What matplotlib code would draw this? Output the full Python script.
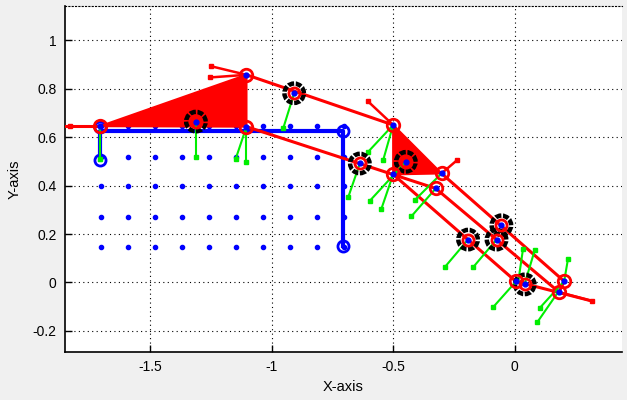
import matplotlib.pyplot as plt
from matplotlib.patches import Circle, Polygon

plt.rcParams['font.family'] = ['Liberation Sans', 'DejaVu Sans']

# Workspace sample points (blue dots)
grid_x = [-1.703, -1.592, -1.480, -1.370, -1.259, -1.148, -1.037, -0.926, -0.815, -0.704]
grid_y = [0.145, 0.270, 0.398, 0.519, 0.645]

# Blue reference path and its end/corner rings
path_x = [-1.705, -1.705, -0.708, -0.708]
path_y = [0.505, 0.627, 0.627, 0.149]
ring_x = [-1.705, -1.705, -0.708, -0.708]
ring_y = [0.505, 0.640, 0.627, 0.149]

# Rigid bodies (filled red triangles)
tri1_x = [-1.705, -1.103, -1.103]
tri1_y = [0.645, 0.857, 0.643]
tri2_x = [-0.500, -0.500, -0.301]
tri2_y = [0.650, 0.446, 0.450]

# Red links: (x0, y0, x1, y1)
links = [
    (-1.849, 0.645, -1.705, 0.645),
    (-1.103, 0.857, -0.500, 0.650),
    (-1.103, 0.643, -0.325, 0.388),
    (-0.500, 0.446, 0.005, 0.004),
    (-0.325, 0.388, 0.182, -0.040),
    (-0.301, 0.450, 0.203, 0.005),
    (0.005, 0.004, 0.319, -0.077),
    (0.182, -0.040, 0.203, 0.005),
]
# Short red stubs ending in a dot
stubs = [
    (-1.103, 0.857, -1.247, 0.892),
    (-1.103, 0.857, -1.254, 0.846),
    (-0.500, 0.650, -0.603, 0.747),
    (-0.301, 0.450, -0.237, 0.505),
    (-1.705, 0.645, -1.830, 0.645),
    (0.182, -0.040, 0.319, -0.077),
]

# Green direction vectors: (x0, y0, x1, y1)
vectors = [
    (-1.705, 0.629, -1.705, 0.510),
    (-1.311, 0.664, -1.311, 0.516),
    (-1.103, 0.643, -1.148, 0.508),
    (-1.103, 0.643, -1.103, 0.498),
    (-0.907, 0.781, -0.952, 0.636),
    (-0.500, 0.650, -0.541, 0.505),
    (-0.500, 0.650, -0.603, 0.539),
    (-0.637, 0.491, -0.685, 0.351),
    (-0.448, 0.498, -0.596, 0.337),
    (-0.500, 0.446, -0.548, 0.305),
    (-0.301, 0.450, -0.411, 0.340),
    (-0.325, 0.388, -0.425, 0.273),
    (-0.192, 0.177, -0.288, 0.063),
    (-0.075, 0.177, -0.171, 0.063),
    (0.014, 0.001, 0.034, 0.139),
    (0.041, -0.005, 0.082, 0.133),
    (0.005, 0.004, -0.089, -0.102),
    (0.203, 0.005, 0.219, 0.098),
    (0.199, 0.001, 0.103, -0.105),
    (0.178, -0.040, 0.092, -0.165),
]

# Wheel centres (black notched rings)
gear_x = [-1.311, -0.907, -0.637, -0.448, -0.192, -0.075, -0.055, 0.041]
gear_y = [0.664, 0.781, 0.491, 0.498, 0.177, 0.177, 0.236, -0.008]

# Joints (red rings)
joint_x = [-1.705, -1.103, -1.103, -0.500, -0.500, -0.301, -0.325, 0.203, 0.182, 0.005]
joint_y = [0.645, 0.857, 0.643, 0.650, 0.446, 0.450, 0.388, 0.005, -0.040, 0.004]

fig = plt.figure(figsize=(6.27, 4.0), dpi=100, facecolor='#f0f0f0')
ax = fig.add_axes([0.1037, 0.12, 0.888, 0.865])
ax.set_xlim(-1.849, 0.44)
ax.set_ylim(-0.287, 1.141)

# grid dots
gx = [x for y in grid_y for x in grid_x]
gy = [y for y in grid_y for x in grid_x]
ax.plot(gx, gy, 'o', color='blue', ms=3, zorder=2)

ax.plot(path_x, path_y, '-', color='blue', lw=3, zorder=3, solid_joinstyle='round')
ax.plot(ring_x, ring_y, 'o', ms=8, mfc='none', mec='blue', mew=2, zorder=3)

ax.add_patch(Polygon(list(zip(tri1_x, tri1_y)), closed=True, fc='red', ec='red', lw=1.5, zorder=4))
ax.add_patch(Polygon(list(zip(tri2_x, tri2_y)), closed=True, fc='red', ec='red', lw=1.5, zorder=4))

for x0, y0, x1, y1 in links:
    ax.plot([x0, x1], [y0, y1], '-', color='red', lw=2.2, zorder=5)
for x0, y0, x1, y1 in stubs:
    ax.plot([x0, x1], [y0, y1], '-', color='red', lw=1.8, zorder=5)
    ax.plot(x1, y1, 's', color='red', ms=3, zorder=5)

for x0, y0, x1, y1 in vectors:
    ax.plot([x0, x1], [y0, y1], '-', color='#00ee00', lw=1.5, zorder=6)
    ax.plot(x1, y1, 's', color='#00ee00', ms=3, zorder=6)

for x, y in zip(gear_x, gear_y):
    ax.add_patch(Circle((x, y), 0.040, fill=False, ec='black', lw=3.2,
                        linestyle=(0, (1.35, 0.37)), zorder=7))
ax.plot(gear_x, gear_y, 'o', ms=8, mfc='none', mec='red', mew=2, zorder=8)
ax.plot(gear_x, gear_y, 'o', color='blue', ms=3.5, zorder=9)

ax.plot(joint_x, joint_y, 'o', ms=9, mfc='none', mec='red', mew=2, zorder=8)
ax.plot(joint_x, joint_y, 'o', color='blue', ms=3.5, zorder=9)

ax.set_xticks([-1.5, -1, -0.5, 0])
ax.set_xticklabels(['-1.5', '-1', '-0.5', '0'])
ax.set_yticks([-0.2, 0, 0.2, 0.4, 0.6, 0.8, 1])
ax.set_yticklabels(['-0.2', '0', '0.2', '0.4', '0.6', '0.8', '1'])
ax.tick_params(direction='in', length=5, width=1, labelsize=10, pad=6)
ax.grid(True, color='black', linestyle=(0, (1, 3)), lw=0.8)
ax.set_axisbelow(True)
for s in ['left', 'bottom']:
    ax.spines[s].set_linewidth(1.2)
ax.spines['top'].set_linestyle((0, (1, 2)))
ax.spines['top'].set_linewidth(0.8)
ax.spines['right'].set_visible(False)

ax.set_xlabel('X-axis', fontsize=10.5, labelpad=4)
ax.set_ylabel('Y-axis', fontsize=10.5, labelpad=8)

fig.savefig('out.png', dpi=100, facecolor=fig.get_facecolor())
